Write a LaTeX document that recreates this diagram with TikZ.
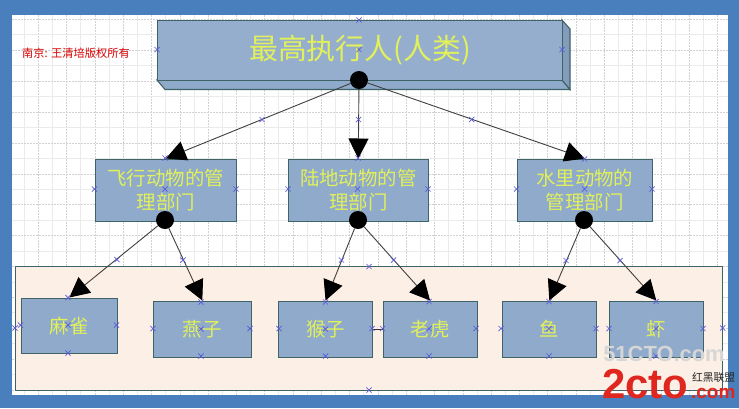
\documentclass[tikz,border=0pt]{standalone}
\usepackage{fontspec}
\usetikzlibrary{arrows.meta}
\setmainfont{Noto Sans CJK SC}
\newfontfamily\latinb{Liberation Sans}
\definecolor{frameblue}{HTML}{4A7FBD}
\definecolor{boxfill}{HTML}{8FAACB}
\definecolor{boxedge}{HTML}{3F6468}
\definecolor{peach}{HTML}{FCEFE5}
\definecolor{labelyellow}{HTML}{E2F05A}
\definecolor{markblue}{HTML}{5A5AD8}
\definecolor{gridgrey}{HTML}{D2D2D2}
\definecolor{gridlight}{HTML}{EBEBEB}
\definecolor{wmred}{HTML}{E0271F}
\tikzset{
 x=1bp,y=-1bp,
 boxn/.style={draw=boxedge,line width=1.1bp,fill=boxfill,inner sep=0pt,text=labelyellow,align=center,anchor=north west,font=\fontsize{19.5}{25}\selectfont},
 leafn/.style={boxn,font=\fontsize{19.5}{22}\selectfont},
 dotn/.style={circle,fill=black,inner sep=0pt,minimum size=18bp},
 link/.style={draw=black!75,line width=.9bp,-{Triangle[length=20bp,width=20bp,color=black]}},
 gridmajor/.style={draw=gridgrey,line width=.6bp,dash pattern=on 1.5bp off 1.5bp},
 gridminor/.style={draw=gridlight,line width=.8bp},
}
\newcommand{\mk}[1]{\draw[markblue,line width=.7bp] #1 +(-2.6,-2.6) -- +(2.6,2.6) #1 +(-2.6,2.6) -- +(2.6,-2.6);}
\newcommand{\bx}[6]{\node[#1,minimum width=#4bp,minimum height=#5bp] (#2) at (#3) {#6};}
\begin{document}
\begin{tikzpicture}
\useasboundingbox (0,0) rectangle (739,408);
\fill[frameblue] (0,0) rectangle (739,408);
\fill[white] (12,15) rectangle (728,395);
% grid
\begin{scope}
\clip (12,15) rectangle (728,395);
\foreach \i in {0,...,25}{\draw[gridminor] ({24.1+28.3*\i},15) -- ({24.1+28.3*\i},395);
  \draw[gridmajor] ({10+28.3*\i},15) -- ({10+28.3*\i},395);}
\foreach \i in {0,...,12}{\draw[gridminor] (12,{34.7+30.9*\i}) -- (728,{34.7+30.9*\i});
  \draw[gridmajor] (12,{19.3+30.9*\i}) -- (728,{19.3+30.9*\i});}
\end{scope}
% peach band
\fill[peach,draw=boxedge,line width=.8bp] (15,266.5) rectangle (722.7,390);
% top box
\fill[boxfill,draw=boxedge,line width=1.1bp] (157,80) -- (165,89.5) -- (570,89.5) -- (562,80) -- cycle;
\fill[boxfill!92!black,draw=boxedge,line width=1.1bp] (562,20) -- (570,29) -- (570,89.5) -- (562,80) -- cycle;
\node[boxn,fill=boxfill!95!white,font=\fontsize{29}{32}\selectfont,minimum width=405bp,minimum height=60bp] (top) at (157,20) {最高执行人(人类)};
% department boxes
\bx{boxn}{air}{94.5,158.5}{141.5}{62}{飞行动物的管\\理部门}
\bx{boxn}{land}{287.5,158.5}{140.5}{62}{陆地动物的管\\理部门}
\bx{boxn}{water}{516.5,158.5}{135.5}{62}{水里动物的\\管理部门}
% leaves
\bx{leafn}{sparrow}{20.5,297.5}{96.5}{55.5}{麻雀}
\bx{leafn}{swallow}{153,300.5}{97.5}{56}{燕子}
\bx{leafn}{monkey}{278,300.5}{94}{56}{猴子}
\bx{leafn}{tiger}{382.5,300.5}{94}{56}{老虎}
\bx{leafn}{fish}{501.5,300.5}{94.5}{56}{鱼}
\bx{leafn}{shrimp}{608.5,300.5}{94.5}{56}{虾}
% dots
\node[dotn] (dtop) at (359,80) {};
\node[dotn] (dair) at (165,220) {};
\node[dotn] (dland) at (358,220) {};
\node[dotn] (dwater) at (584,220) {};
% connectors
\draw[link] (dtop) -- (air.north);
\draw[link] (dtop) -- (land.north);
\draw[link] (dtop) -- (water.north);
\draw[link] (dair) -- (sparrow.north);
\draw[link] (dair) -- (swallow.north);
\draw[link] (dland) -- (monkey.north);
\draw[link] (dland) -- (tiger.north);
\draw[link] (dwater) -- (fish.north);
\draw[link] (dwater) -- (shrimp.north);
\draw[black!80,line width=.8bp] (monkey.east) -- (tiger.west);
% markers
\foreach \p in {(359,20),(157,49.5),(359,49.5),(562,49.5),(262,119.5),(358.5,119.5),(471.7,119.5),
 (94.5,189),(165,189),(236,189),(165,158),(288,189),(357.5,189),(428,189),(358,158),(516.5,189),(584.5,189),(652,189),(584.5,159),
 (117,259.5),(183,260),(341.5,260),(393.5,260),(566,260.5),(620,260.5),
 (15,328),(369,266.5),(369,390),(722.7,328),
 (68,297.5),(20.5,325),(68,325),(116.5,325),(68,353),
 (201,302),(153,328.5),(201,329),(250,328.5),(201,356),
 (325.5,302),(279,328.5),(325.5,329),(372,328.5),(325.5,356),
 (429,301.5),(382.5,328.5),(429,328.5),(476,328.5),(429,356),
 (549,301.5),(501,328.5),(549,328.5),(596,328.5),(549,356),
 (656,301.5),(609,328.5),(656,328.5),(703,328.5),(656,356)}{\mk{\p}}
% notice
\node[text=red!85!black,font=\fontsize{11.3}{13}\selectfont,anchor=west,inner sep=0pt] (note) at (22,53) {南京: 王清培版权所有};
% watermark
\node[text=black!16,font=\latinb\bfseries\fontsize{22}{22}\selectfont,inner sep=0pt] (wm1) at (664,354) {51CTO.com};
\node[text=wmred,font=\latinb\bfseries\fontsize{42}{42}\selectfont,anchor=base west,inner sep=0pt] (wm2) at (602,398) {2cto};
\node[text=wmred,font=\latinb\bfseries\fontsize{19}{19}\selectfont,anchor=base west,inner sep=0pt] (wm3) at (691,398) {.com};
\node[text=black!85,font=\fontsize{10.8}{11}\selectfont,anchor=base west,inner sep=0pt] (wm4) at (692,381) {红黑联盟};
\end{tikzpicture}
\end{document}
